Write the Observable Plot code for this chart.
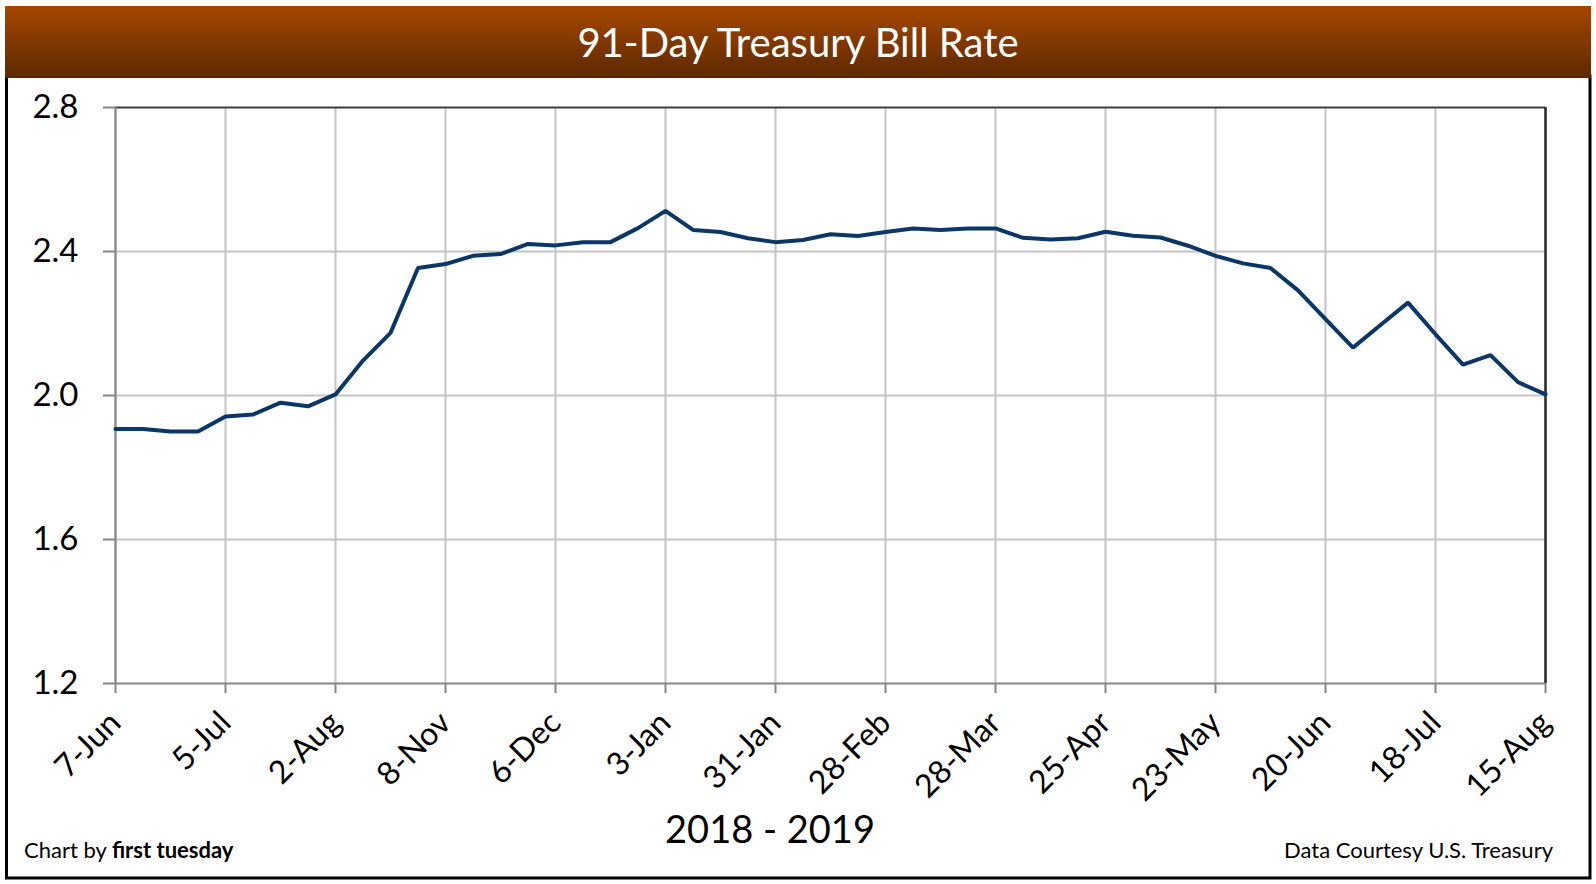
<!DOCTYPE html>
<html>
<head>
<meta charset="utf-8">
<script src="https://cdn.jsdelivr.net/npm/d3@7"></script>
<script src="https://cdn.jsdelivr.net/npm/@observablehq/plot@0.6"></script>
<style>
  html, body { margin: 0; padding: 0; background: #fff; }
  #wrap { position: relative; width: 1596px; height: 884px; overflow: hidden; }
  #wrap svg { position: absolute; left: 0; top: 0; }
</style>
</head>
<body>
<div id="wrap"></div>
<script>
// ---- data ----
const tickLabels = ["7-Jun","5-Jul","2-Aug","8-Nov","6-Dec","3-Jan","31-Jan","28-Feb","28-Mar","25-Apr","23-May","20-Jun","18-Jul","15-Aug"];
const rates = [
  1.907, 1.907, 1.900, 1.900, 1.942, 1.947, 1.980, 1.970, 2.003, 2.097,
  2.174, 2.354, 2.365, 2.388, 2.393, 2.421, 2.417, 2.426, 2.426, 2.465,
  2.513, 2.460, 2.454, 2.437, 2.426, 2.432, 2.448, 2.443, 2.454, 2.464,
  2.460, 2.464, 2.464, 2.438, 2.433, 2.437, 2.455, 2.444, 2.439, 2.416,
  2.388, 2.367, 2.354, 2.292, 2.212, 2.133, 2.196, 2.258, 2.170, 2.086,
  2.112, 2.037, 2.003
];
const yTicks = [1.2, 1.6, 2.0, 2.4, 2.8];
const titleText = "91-Day Treasury Bill Rate";
const xTitle = "2018 - 2019";
const creditLeft = ["Chart by ", "first tuesday"];
const creditRight = "Data Courtesy U.S. Treasury";

const data = rates.map((r, i) => ({i, rate: r}));
const xTickIdx = tickLabels.map((_, k) => k * 4);
const FONT = "Lato, 'Open Sans', sans-serif";

const chart = Plot.plot({
  width: 1596,
  height: 884,
  marginLeft: 115,
  marginRight: 51,
  marginTop: 107,
  marginBottom: 201,
  style: {fontFamily: FONT, background: "transparent", color: "#000"},
  x: {type: "linear", domain: [0, rates.length - 1], label: null},
  y: {domain: [1.2, 2.8], label: null},
  marks: [
    Plot.gridX(xTickIdx, {stroke: "#c4c4c4", strokeOpacity: 1, strokeWidth: 2}),
    Plot.gridY([1.6, 2.0, 2.4], {stroke: "#c4c4c4", strokeOpacity: 1, strokeWidth: 2}),
    Plot.axisY({ticks: yTicks, tickSize: 12, tickPadding: 25, tickFormat: d => d.toFixed(1),
      fontSize: 33, stroke: "#868686", strokeWidth: 2, fill: "#000", label: null}),
    Plot.axisX({ticks: xTickIdx, tickSize: 10, tickPadding: 24, tickRotate: -45,
      tickFormat: i => tickLabels[i / 4], fontSize: 32, stroke: "#868686", strokeWidth: 2,
      fill: "#000", label: null}),
    Plot.ruleY([2.8], {stroke: "#3c3c3c", strokeWidth: 2}),
    Plot.ruleX([rates.length - 1], {stroke: "#2a2a2a", strokeWidth: 2.5}),
    Plot.ruleX([0], {stroke: "#868686", strokeWidth: 2}),
    Plot.ruleY([1.2], {stroke: "#868686", strokeWidth: 2}),
    Plot.line(data, {x: "i", y: "rate", stroke: "#0b3768", strokeWidth: 4, strokeLinejoin: "miter"})
  ]
});
document.getElementById("wrap").appendChild(chart);

// ---- frame, banner, titles (overlay) ----
const svg = d3.select("#wrap").append("svg")
  .attr("width", 1596).attr("height", 884)
  .style("pointer-events", "none");
const defs = svg.append("defs");
const grad = defs.append("linearGradient").attr("id", "bannerGrad")
  .attr("x1", 0).attr("y1", 0).attr("x2", 0).attr("y2", 1);
grad.append("stop").attr("offset", "0%").attr("stop-color", "#a64700");
grad.append("stop").attr("offset", "100%").attr("stop-color", "#5c2800");

svg.append("rect").attr("x", 6.5).attr("y", 76).attr("width", 1583.5).attr("height", 802)
  .attr("fill", "none").attr("stroke", "#000").attr("stroke-width", 3);
svg.append("rect").attr("x", 5).attr("y", 6).attr("width", 1586).attr("height", 72)
  .attr("fill", "url(#bannerGrad)");
svg.append("text").attr("x", 798).attr("y", 57).attr("text-anchor", "middle")
  .attr("font-family", FONT).attr("font-size", 40).attr("fill", "#fff").text(titleText);

svg.append("text").attr("x", 770).attr("y", 843).attr("text-anchor", "middle")
  .attr("font-family", FONT).attr("font-size", 38).attr("fill", "#000").text(xTitle);

const cl = svg.append("text").attr("x", 24).attr("y", 858)
  .attr("font-family", FONT).attr("font-size", 22).attr("fill", "#000");
cl.append("tspan").text(creditLeft[0]);
cl.append("tspan").attr("font-weight", "bold").text(creditLeft[1]);

svg.append("text").attr("x", 1553).attr("y", 858).attr("text-anchor", "end")
  .attr("font-family", FONT).attr("font-size", 22).attr("fill", "#000").text(creditRight);
</script>
</body>
</html>
